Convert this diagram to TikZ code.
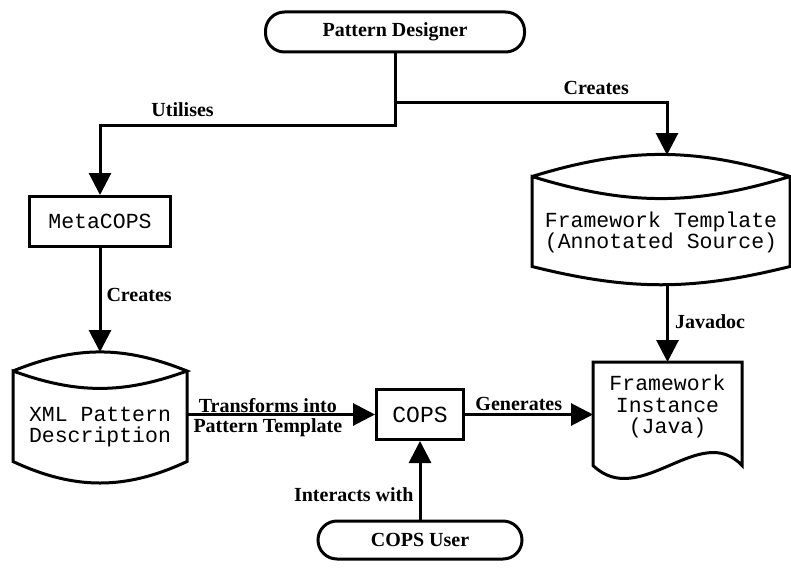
\documentclass[tikz,border=0pt]{standalone}
\usepackage{fontspec}
\setmainfont{Liberation Serif}
\setmonofont{Liberation Mono}
\usepackage{tikz}
\usetikzlibrary{arrows.meta}
\usetikzlibrary{positioning}

\begin{document}
\begin{tikzpicture}[x=1pt, y=1pt, >={Triangle[width=22pt,length=22pt]}, line width=3pt, node distance = 193pt and 320pt, on grid,
	term/.style ={rectangle, rounded corners=19pt, draw, minimum width=259pt, minimum height=40pt, font=\bfseries\fontsize{20}{20}\selectfont},
	proc/.style ={rectangle, draw, minimum width=141pt, minimum height=50pt, font=\ttfamily\fontsize{21.5}{21.5}\selectfont},
	store/.style ={rectangle, align=center, inner sep=0pt, font=\ttfamily\fontsize{21.5}{21}\selectfont},
	lbl/.style ={font=\bfseries\fontsize{20}{20}\selectfont, inner sep=1pt}]
\useasboundingbox (0,0) rectangle (791,-567);
\node[term] (pd) at (395,-32) {Pattern Designer};
\node[proc] (meta) [below left =189.5pt and 295pt of pd] {MetaCOPS};
\node[store, minimum width=171pt, minimum height=109pt] (xml) [below =205.5pt of meta] {XML Pattern\\Description};
\node[proc, minimum width=87pt, font=\ttfamily\fontsize{23}{23}\selectfont] (cops) [below right =of meta] {COPS};
\node[term, minimum width=204pt, minimum height=38pt] (user) [below =125.5pt of cops] {COPS User};
\node[store, minimum width=255pt, minimum height=102pt] (ft) [below right =200.5pt and 266pt of pd] {Framework Template\\(Annotated Source)};
\node[store, minimum width=146pt, minimum height=86pt, font=\ttfamily\fontsize{21.5}{21.5}\selectfont] (fi) [below right =174pt and 6.5pt of ft] {Framework\\Instance\\(Java)};
% stored data outlines
\draw (xml.north west) to[bend left=22] (xml.north east) to[bend left=20] (xml.north west) -- ([yshift=21.5pt]xml.south west) to[bend right=25] ([yshift=21.5pt]xml.south east) -- (xml.north east);
\draw ([yshift=3.5pt]ft.north west) to[bend left=17] ([yshift=3.5pt]ft.north east) to[bend left=17] ([yshift=3.5pt]ft.north west) -- ([yshift=18.5pt]ft.south west) to[bend right=14] ([yshift=18.5pt]ft.south east) -- ([yshift=3.5pt]ft.north east);
% document outline
\draw (fi.north west) -- (fi.north east) -- ([yshift=-103.5pt]fi.north east) .. controls +(-42,45) and +(47,-45) .. ([yshift=-103.5pt]fi.north west) -- cycle;
%\draw[red] (pd.south) -- (meta.north);
\draw[->] (pd.south) -- ([yshift=-71.5pt]pd.south) -| node[lbl, above=6pt, pos=0.36] {Utilises} (meta.north);
\draw[->] ([yshift=-49.5pt]pd.south) -| node[lbl, above=6pt, pos=0.37] {Creates} ([xshift=6pt,yshift=25pt]ft.north);
\draw[->] (meta.south) -- node[lbl, right=4pt, pos=0.45] {Creates} ([yshift=19pt]xml.north);
\draw[->] (fi.north |- ft.south) -- node[lbl, right=5pt, pos=0.48] {Javadoc} (fi.north);
\draw[->] (xml.east |- cops.west) -- node[lbl, align=center, pos=0.43, yshift=-3pt] {Transforms into\\Pattern Template} (cops.west);
\draw[->] (cops.east) -- node[lbl, above=1pt, pos=0.42] {Generates} (cops.east -| fi.west);
\draw[->] (user.north) -- node[lbl, left=4pt, pos=0.32] {Interacts with} (cops.south);
\end{tikzpicture}
\end{document}
